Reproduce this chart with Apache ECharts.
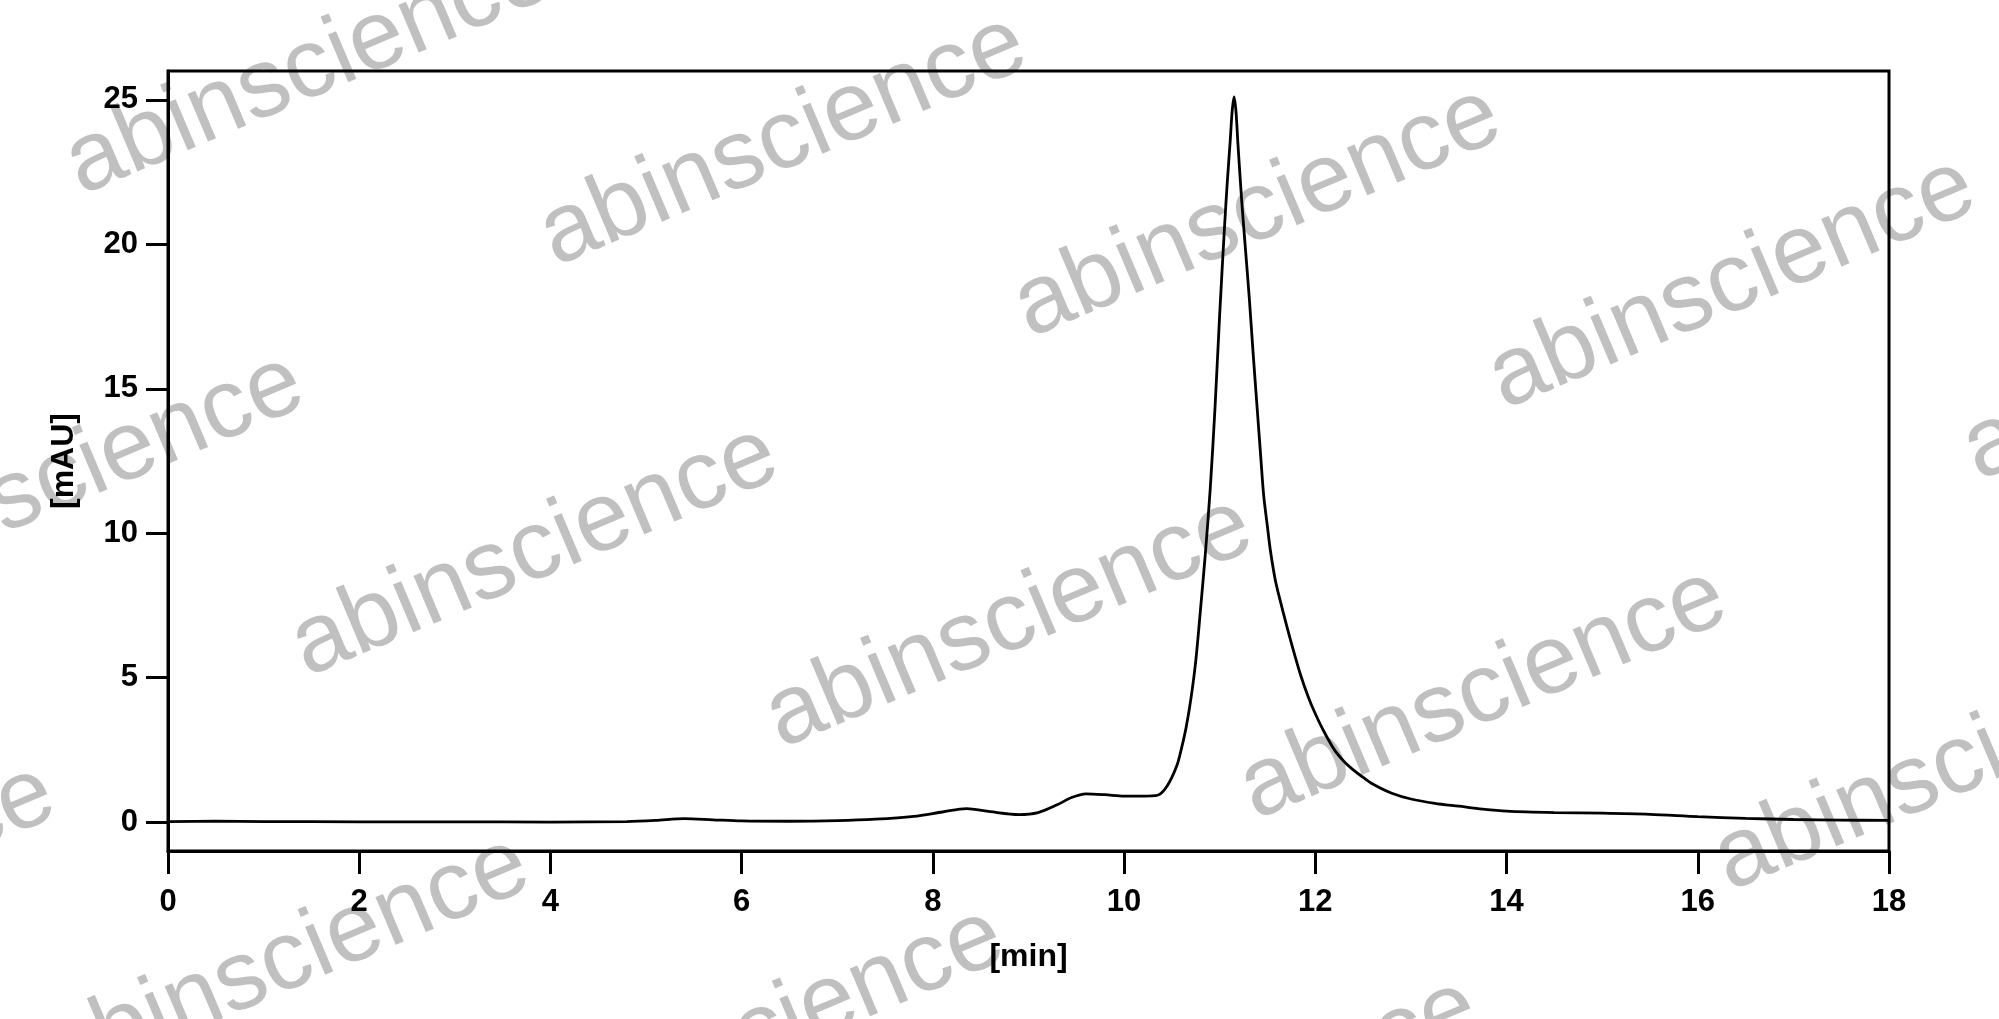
<!DOCTYPE html>
<html>
<head>
<meta charset="utf-8">
<style>
  html, body { margin: 0; padding: 0; background: #fff; }
  #chart { width: 1999px; height: 1019px; }
</style>
<script src="https://cdn.jsdelivr.net/npm/echarts@6/dist/echarts.min.js"></script>
</head>
<body>
<div id="chart"></div>
<script>
// Retention time (min)
var timeMin = [
  0.0, 0.5, 1.0, 2.0, 3.0, 4.0, 4.8, 5.1, 5.4, 5.7, 6.0, 6.5, 7.0, 7.4, 7.8, 8.1, 8.35, 8.6, 8.9, 9.1,
  9.3, 9.45, 9.6, 9.8, 10.0, 10.2, 10.35, 10.45, 10.55, 10.60, 10.65, 10.70, 10.75, 10.80, 10.85, 10.90, 10.95,
  11.00, 11.05, 11.08, 11.11, 11.13, 11.15, 11.17, 11.19, 11.23, 11.27, 11.31, 11.35, 11.39, 11.43, 11.46, 11.50, 11.53, 11.58, 11.63, 11.70,
  11.77, 11.85, 11.93, 12.00, 12.08, 12.20, 12.30, 12.40, 12.50, 12.60, 12.80, 13.00, 13.25, 13.50, 13.75, 14.00,
  14.50, 15.00, 15.50, 16.00, 16.50, 17.00, 17.50, 18.00
];
// Absorbance (mAU)
var absorbance = [
  0.02, 0.03, 0.02, 0.01, 0.01, 0.0, 0.02, 0.06, 0.12, 0.08, 0.04, 0.03, 0.05, 0.10, 0.20, 0.35, 0.47, 0.36, 0.26, 0.33,
  0.60, 0.85, 0.98, 0.95, 0.90, 0.90, 0.93, 1.25, 1.94, 2.55, 3.30, 4.30, 5.60, 7.40, 9.30, 11.5, 14.3,
  17.6, 20.6, 22.2, 23.6, 24.6, 25.1, 24.6, 23.5, 21.5, 19.8, 18.1, 16.2, 14.4, 12.6, 11.3, 10.2, 9.4, 8.4, 7.7, 6.8,
  5.95, 5.05, 4.3, 3.75, 3.2, 2.5, 2.1, 1.8, 1.55, 1.32, 1.0, 0.8, 0.65, 0.55, 0.45, 0.38,
  0.33, 0.31, 0.27, 0.19, 0.13, 0.09, 0.07, 0.06
];
var yTickValues = [0, 5, 10, 15, 20, 25];
var watermarkText = 'abinscience';

var seriesData = timeMin.map(function (t, i) { return [t, absorbance[i]]; });

// watermark lattice (decoration only)
var wmGraphics = [];
var theta = 0.40;
var fs = 98;
var ox = 82 + Math.sin(theta) * 20, oy = 197 + Math.cos(theta) * 20;
var ax = 474.3, ay = 71.4, bx = 225.7, by = 481.9;
for (var i = -4; i <= 6; i++) {
  for (var j = -1; j <= 3; j++) {
    var px = ox + i * ax + j * bx, py = oy + i * ay + j * by;
    if (px < -700 || px > 2100 || py < -300 || py > 1300) continue;
    wmGraphics.push({
      type: 'text', x: px, y: py, rotation: theta, z: -10, silent: true,
      style: {
        text: watermarkText, fill: '#c0c0c0',
        font: 'normal ' + fs + 'px "Liberation Sans", Arial, sans-serif',
        align: 'left', verticalAlign: 'bottom',
        textAlign: 'left', textVerticalAlign: 'bottom'
      }
    });
  }
}

var chart = echarts.init(document.getElementById('chart'));
var tickFont = { color: '#000', fontSize: 31, fontWeight: 'bold', fontFamily: '"Liberation Sans", Arial, sans-serif' };
var nameFont = { color: '#000', fontSize: 32, fontWeight: 'bold', fontFamily: '"Liberation Sans", Arial, sans-serif' };
chart.setOption({
  backgroundColor: '#fff',
  animation: false,
  graphic: { elements: wmGraphics },
  grid: {
    left: 168, right: 110, top: 71, bottom: 168,
    show: true, borderColor: '#000', borderWidth: 3, backgroundColor: 'transparent'
  },
  xAxis: {
    type: 'value', min: 0, max: 18, interval: 2,
    name: '[min]', nameLocation: 'middle', nameGap: 90,
    nameTextStyle: nameFont,
    axisLine: { show: true, onZero: false, lineStyle: { color: '#000', width: 3 } },
    axisTick: { show: true, inside: false, length: 23, lineStyle: { color: '#000', width: 3 } },
    axisLabel: Object.assign({ margin: 36 }, tickFont),
    splitLine: { show: false }
  },
  yAxis: {
    type: 'value', min: -1, max: 26,
    name: '[mAU]', nameLocation: 'middle', nameGap: 88, nameRotate: 90,
    nameTextStyle: nameFont,
    axisLine: { show: true, onZero: false, lineStyle: { color: '#000', width: 3 } },
    axisTick: { show: true, inside: false, length: 22, customValues: yTickValues, lineStyle: { color: '#000', width: 3 } },
    axisLabel: Object.assign({ margin: 30, customValues: yTickValues }, tickFont),
    splitLine: { show: false }
  },
  series: [{
    type: 'line', data: seriesData, showSymbol: false, symbol: 'none',
    smooth: 0.3, z: 5,
    lineStyle: { color: '#000', width: 2.8 }
  }]
});
</script>
</body>
</html>
